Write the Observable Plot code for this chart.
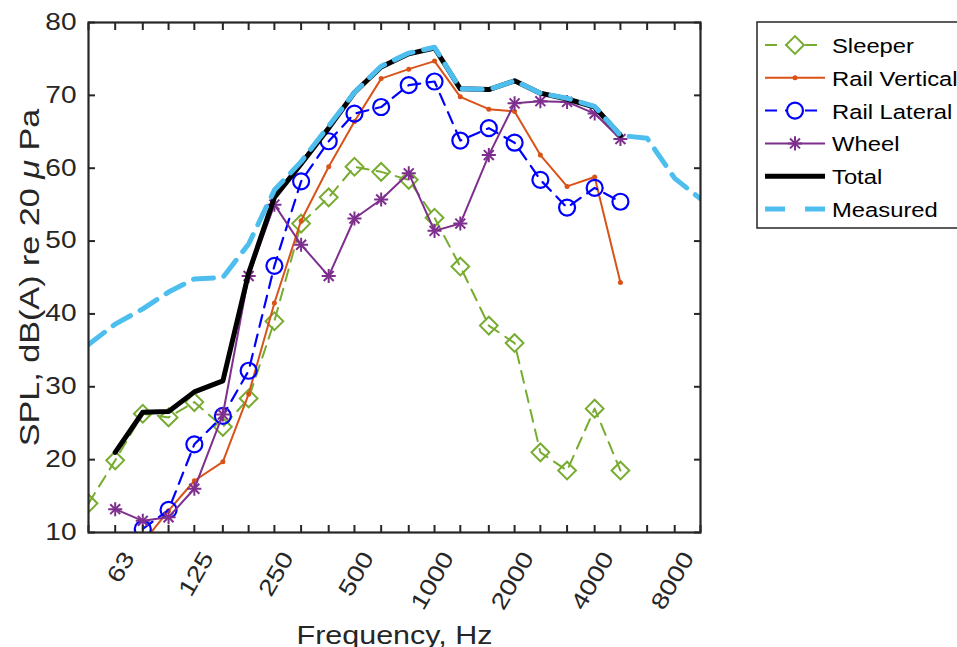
<!DOCTYPE html>
<html><head><meta charset="utf-8">
<script src="https://cdn.jsdelivr.net/npm/d3@7"></script>
<script src="https://cdn.jsdelivr.net/npm/@observablehq/plot@0.6"></script>
<style>
html,body{margin:0;padding:0;background:#fff;overflow:hidden;}
#wrap{position:relative;width:957px;height:647px;overflow:hidden;font-family:"Liberation Sans",Arial,sans-serif;background:#fff;}
#wrap svg{position:absolute;left:0;top:0;}
</style></head><body><div id="wrap"></div>
<script>
// 1/3-octave band centre frequencies (Hz)
const bands = [50, 63, 80, 100, 125, 160, 200, 250, 315, 400, 500, 630, 800, 1000, 1250, 1600, 2000, 2500, 3150, 4000, 5000, 6300, 8000, 10000];
const labeledBands = [63, 125, 250, 500, 1000, 2000, 4000, 8000];
const yTicks = [10, 20, 30, 40, 50, 60, 70, 80];

const sleeperFreq = [50, 63, 80, 100, 125, 160, 200, 250, 315, 400, 500, 630, 800, 1000, 1250, 1600, 2000, 2500, 3150, 4000, 5000];
const sleeper = [14.0, 19.9, 26.3, 25.8, 27.9, 24.5, 28.4, 39.0, 52.4, 56.0, 60.2, 59.5, 58.4, 53.2, 46.5, 38.4, 36.0, 21.0, 18.5, 27.0, 18.5];

const railVertFreq = [80, 100, 125, 160, 200, 250, 315, 400, 500, 630, 800, 1000, 1250, 1600, 2000, 2500, 3150, 4000, 5000];
const railVertical = [8.6, 13.0, 17.1, 19.7, 29.0, 41.5, 52.8, 60.2, 66.4, 72.3, 73.6, 74.7, 69.8, 68.1, 67.8, 61.8, 57.5, 58.8, 44.3];

const railLatFreq = [80, 100, 125, 160, 200, 250, 315, 400, 500, 630, 800, 1000, 1250, 1600, 2000, 2500, 3150, 4000, 5000];
const railLateral = [10.5, 13.1, 22.1, 26.0, 32.2, 46.6, 58.2, 63.7, 67.5, 68.4, 71.4, 71.9, 63.8, 65.5, 63.5, 58.4, 54.6, 57.3, 55.4];

const wheelFreq = [63, 80, 100, 125, 160, 200, 250, 315, 400, 500, 630, 800, 1000, 1250, 1600, 2000, 2500, 3150, 4000, 5000];
const wheel = [13.2, 11.6, 12.1, 16.0, 26.2, 45.2, 55.0, 49.5, 45.2, 53.1, 55.7, 59.3, 51.4, 52.4, 61.8, 68.9, 69.2, 69.1, 67.5, 64.0];

const totalFreq = [63, 80, 100, 125, 160, 200, 250, 315, 400, 500, 630, 800, 1000, 1250, 1600, 2000, 2500, 3150, 4000, 5000];
const total = [21.0, 26.5, 26.6, 29.3, 30.8, 45.6, 56.0, 60.6, 65.5, 70.4, 73.9, 75.7, 76.5, 70.9, 70.8, 72.0, 70.3, 69.5, 68.4, 64.5];

const measuredFreq = [50, 63, 80, 100, 125, 160, 200, 250, 315, 400, 500, 630, 800, 1000, 1250, 1600, 2000, 2500, 3150, 4000, 5000, 6300, 8000, 10000];
const measured = [35.8, 38.6, 40.7, 43.0, 44.8, 45.0, 49.6, 57.0, 60.9, 65.8, 70.4, 74.0, 75.8, 76.6, 70.9, 70.8, 72.0, 70.3, 69.6, 68.5, 64.5, 64.1, 58.6, 55.8];

const seriesNames = ["Sleeper", "Rail Vertical", "Rail Lateral", "Wheel", "Total", "Measured"];
const colors = {Sleeper: "#77AC30", "Rail Vertical": "#D95319", "Rail Lateral": "#0000FF", Wheel: "#7E2F8E", Total: "#000000", Measured: "#4DBEEE"};

const rows = (fs, vs) => fs.map((f, i) => ({f, v: vs[i]}));
const S = rows(sleeperFreq, sleeper);
const RV = rows(railVertFreq, railVertical);
const RL = rows(railLatFreq, railLateral);
const W = rows(wheelFreq, wheel);
const T = rows(totalFreq, total);
const M = rows(measuredFreq, measured);

const axisColor = "#262626";
const yTitle = "SPL, dB(A) re 20 \u03BC Pa";
const WIDE = 1.22; // horizontal glyph stretch seen in the reference text

const chart = Plot.plot({
  width: 957,
  height: 647,
  marginLeft: 88,
  marginRight: 257,
  marginTop: 22,
  marginBottom: 115,
  style: {fontFamily: "'Liberation Sans', Arial, sans-serif", fontSize: "23px", color: axisColor, background: "transparent", overflow: "visible"},
  x: {type: "log", domain: [50, 10000]},
  y: {domain: [10, 80]},
  marks: [
    Plot.line(S, {x: "f", y: "v", stroke: colors.Sleeper, strokeWidth: 2, strokeDasharray: "12,8", clip: true}),
    Plot.dot(S, {x: "f", y: "v", symbol: "diamond2", r: 8, stroke: colors.Sleeper, strokeWidth: 2, fill: "none", clip: true}),
    Plot.line(RV, {x: "f", y: "v", stroke: colors["Rail Vertical"], strokeWidth: 2, clip: true}),
    Plot.dot(RV, {x: "f", y: "v", r: 2.5, fill: colors["Rail Vertical"], stroke: "none", clip: true}),
    Plot.line(RL, {x: "f", y: "v", stroke: colors["Rail Lateral"], strokeWidth: 2.2, strokeDasharray: "12,8", clip: true}),
    Plot.dot(RL, {x: "f", y: "v", r: 8, stroke: colors["Rail Lateral"], strokeWidth: 2.2, fill: "none", clip: true}),
    Plot.line(W, {x: "f", y: "v", stroke: colors.Wheel, strokeWidth: 2, clip: true}),
    Plot.dot(W, {x: "f", y: "v", symbol: "plus", r: 4.6, stroke: colors.Wheel, strokeWidth: 2, clip: true}),
    Plot.dot(W, {x: "f", y: "v", symbol: "times", r: 4.6, stroke: colors.Wheel, strokeWidth: 2, clip: true}),
    Plot.line(T, {x: "f", y: "v", stroke: colors.Total, strokeWidth: 5, clip: true}),
    Plot.line(M, {x: "f", y: "v", stroke: colors.Measured, strokeWidth: 5, strokeDasharray: "20,11", clip: true}),
    // inward ticks on all four sides
    Plot.axisY(yTicks, {anchor: "left", tickSize: 7, dx: 7, fill: "none", stroke: axisColor, strokeWidth: 2, label: null}),
    Plot.axisY(yTicks, {anchor: "right", tickSize: 7, dx: -7, fill: "none", stroke: axisColor, strokeWidth: 2, label: null}),
    Plot.axisX(bands, {anchor: "bottom", tickSize: 7, dy: -7, fill: "none", stroke: axisColor, strokeWidth: 2, label: null}),
    Plot.axisX(bands, {anchor: "top", tickSize: 7, dy: 7, fill: "none", stroke: axisColor, strokeWidth: 2, label: null}),
    // y tick labels
    Plot.axisY(yTicks, {anchor: "left", tickSize: 0, tickPadding: 12, fill: axisColor, fontSize: 23, label: null}),
    // x tick labels (rotated)
    Plot.text(labeledBands, {x: d => d, frameAnchor: "bottom", text: d => String(d), rotate: -60, textAnchor: "end", dx: 20, dy: 25, fontSize: 23, fill: axisColor}),
    // axis titles
    Plot.text([ "Frequency, Hz" ], {frameAnchor: "bottom", text: d => d, textAnchor: "middle", lineAnchor: "top", dy: 94, fontSize: 25, fill: axisColor}),
    Plot.text([ yTitle ], {frameAnchor: "left", text: d => d, rotate: -90, textAnchor: "middle", lineAnchor: "middle", dx: -58, fontSize: 28, fill: axisColor}),
    Plot.frame({stroke: axisColor, strokeWidth: 2.2})
  ]
});

const wrap = document.getElementById("wrap");
wrap.appendChild(chart);

// italic mu in the y title
d3.select(chart).selectAll("text").filter(function() { return this.textContent === yTitle; }).each(function() {
  const t = d3.select(this);
  t.text(null);
  t.append("tspan").text("SPL, dB(A) re 20 ");
  t.append("tspan").attr("font-style", "italic").text("\u03BC");
  t.append("tspan").text(" Pa");
});

// legend
const lg = d3.select(wrap).append("svg")
  .attr("width", 215).attr("height", 215)
  .style("left", "756px").style("top", "21px")
  .style("font-family", "'Liberation Sans', Arial, sans-serif");
lg.append("rect").attr("x", 1).attr("y", 1).attr("width", 220).attr("height", 206)
  .attr("fill", "white").attr("stroke", axisColor).attr("stroke-width", 1.5);
const rowY = i => 24 + i * 32.8;
const x0 = 9, x1 = 69, xm = 39, xt = 76;
seriesNames.forEach((name, i) => {
  const y = rowY(i);
  const g = lg.append("g");
  const c = colors[name];
  let sw = 2, dash = null;
  if (name === "Sleeper" || name === "Rail Lateral") dash = "12,8";
  if (name === "Total") sw = 5;
  if (name === "Measured") { sw = 5; dash = "20,20"; }
  g.append("line").attr("x1", x0).attr("x2", x1).attr("y1", y).attr("y2", y)
    .attr("stroke", c).attr("stroke-width", sw).attr("stroke-dasharray", dash);
  if (name === "Sleeper") {
    g.append("path").attr("d", d3.symbol(d3.symbolDiamond2, Math.PI * 64)()).attr("transform", `translate(${xm},${y})`)
      .attr("fill", "white").attr("stroke", c).attr("stroke-width", 2);
  } else if (name === "Rail Vertical") {
    g.append("circle").attr("cx", xm).attr("cy", y).attr("r", 2.5).attr("fill", c);
  } else if (name === "Rail Lateral") {
    g.append("circle").attr("cx", xm).attr("cy", y).attr("r", 8).attr("fill", "white").attr("stroke", c).attr("stroke-width", 2.2);
  } else if (name === "Wheel") {
    g.append("path").attr("d", d3.symbol(d3.symbolPlus, Math.PI * 4.6 * 4.6)()).attr("transform", `translate(${xm},${y})`)
      .attr("fill", "none").attr("stroke", c).attr("stroke-width", 2);
    g.append("path").attr("d", d3.symbol(d3.symbolTimes, Math.PI * 4.6 * 4.6)()).attr("transform", `translate(${xm},${y})`)
      .attr("fill", "none").attr("stroke", c).attr("stroke-width", 2);
  }
  g.append("text").attr("x", xt).attr("y", y + 8).attr("font-size", 19.5).attr("fill", "#000").text(name);
});

// widen the glyphs along their reading direction, keeping each anchor in place
d3.select(wrap).selectAll("text").each(function() {
  const tr = this.getAttribute("transform") || "";
  const xa = this.getAttribute("x");
  if (xa !== null && xa !== "" && !isNaN(+xa)) this.setAttribute("x", +xa / WIDE);
  this.setAttribute("transform", `${tr} scale(${WIDE},1)`);
});
</script>
</body></html>
